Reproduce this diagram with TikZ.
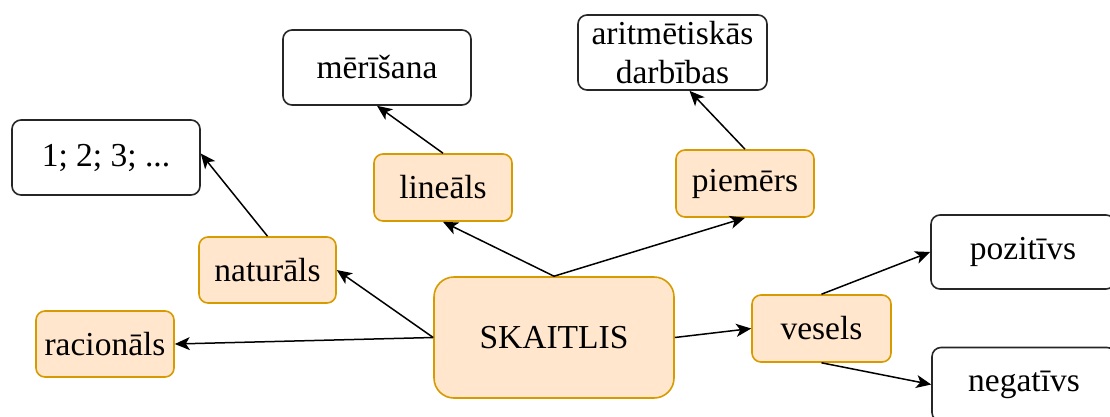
\documentclass[tikz,border=0pt]{standalone}
\usepackage{fontspec}
\setmainfont{Liberation Serif}
\usetikzlibrary{arrows.meta}
\definecolor{orfill}{HTML}{FFE6CC}
\definecolor{ordraw}{HTML}{D79B00}
\tikzset{
  base/.style={rounded corners=9pt, line width=1.6pt, inner sep=0pt, align=center,
    font=\fontsize{33.5}{39}\selectfont},
  obox/.style={base, fill=orfill, draw=ordraw},
  wbox/.style={base, fill=white, draw=black!85},
  conn/.style={line width=1.5pt, -{Stealth[length=15pt,width=13pt,inset=4pt]}}
}
\begin{document}
\begin{tikzpicture}[x=1pt,y=-1pt]
\useasboundingbox (0,0) rectangle (1110,416);
\clip (0,0) rectangle (1110,416);
\fill[white] (0,0) rectangle (1110,416);
% nodes
\node[wbox, minimum width=188pt, minimum height=75pt] (n123) at (106,157.5) {1; 2; 3; ...};
\node[obox, minimum width=137pt, minimum height=66pt] (nat) at (267.5,270) {naturāls};
\node[obox, minimum width=138pt, minimum height=66pt] (rac) at (105,344) {racionāls};
\node[wbox, minimum width=188pt, minimum height=75pt] (mer) at (377,67.5) {mērīšana};
\node[obox, minimum width=138pt, minimum height=67pt] (lin) at (443,187.5) {lineāls};
\node[wbox, minimum width=189pt, minimum height=75pt] (ari) at (672.5,52.5) {aritmētiskās\\darbības};
\node[obox, minimum width=138pt, minimum height=67pt] (pie) at (745,183.5) {piemērs};
\node[obox, rounded corners=20pt, minimum width=240pt, minimum height=121pt] (sk) at (554,337.5) {SKAITLIS};
\node[obox, minimum width=139pt, minimum height=67pt] (ves) at (821.5,328.5) {vesels};
\node[wbox, minimum width=184pt, minimum height=74pt] (poz) at (1023,252) {pozitīvs};
\node[wbox, minimum width=184pt, minimum height=74pt] (neg) at (1024,384.5) {negatīvs};
% connectors
\draw[conn] (nat.north) -- ([yshift=4pt]n123.east);
\draw[conn] (sk.west) -- (nat.east);
\draw[conn] (sk.west) -- (rac.east);
\draw[conn] (sk.north) -- (lin.south);
\draw[conn] (sk.north) -- (pie.south);
\draw[conn] (lin.north) -- (mer.south);
\draw[conn] (pie.north) -- ([xshift=17pt]ari.south);
\draw[conn] (sk.east) -- (ves.west);
\draw[conn] (ves.north) -- (poz.west);
\draw[conn] (ves.south) -- (neg.west);
\end{tikzpicture}
\end{document}
